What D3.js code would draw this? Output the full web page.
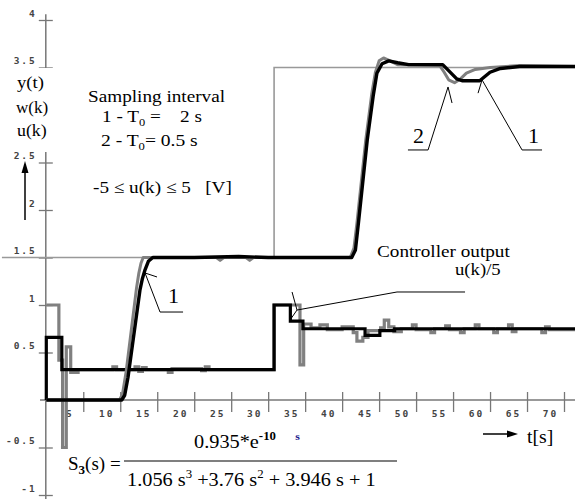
<!DOCTYPE html>
<html lang="en">
<head>
<meta charset="UTF-8" />
<title>Step response, two sampling intervals</title>
<style>
  body { margin: 0; background: #fff; }
  svg { display: block; }
  .tick text {
    font-family: "DejaVu Sans Mono", monospace;
    font-weight: bold;
    font-size: 9.5px;
    fill: #444;
    letter-spacing: 2px;
  }
  .tick line { stroke: #777; stroke-width: 1.3; }
  .lbl { font-family: "Liberation Serif", "DejaVu Serif", serif; fill: #000; }
</style>
</head>
<body>
<div id="chart"></div>
<script src="https://d3js.org/d3.v7.min.js"></script>
<script>
// axis ticks
const xTicks = [5, 10, 15, 20, 25, 30, 35, 40, 45, 50, 55, 60, 65, 70];
const yTicks = [-1, -0.5, 0.5, 1, 1.5, 2, 2.5, 3, 3.5, 4];

// reference w(k)
const wT = [-6, 30.8, 71.5];
const wV = [1.5, 3.5, 3.5];

// output y(t), T0 = 2 s (black)
const ySlowT = [0, 10.2, 10.6, 11.05, 12.67, 13.0, 13.35, 13.8, 14.4, 20, 26, 30, 36, 41.3, 41.8, 42.2, 43.4, 44.2, 44.7, 45.4, 46.3, 47.5, 49, 53.6, 55.5, 56.3, 58.6, 60, 61.4, 64, 71.5];
const ySlowV = [0, 0, 0.05, 0.24, 1.16, 1.28, 1.37, 1.46, 1.5, 1.5, 1.51, 1.5, 1.5, 1.5, 1.58, 1.86, 2.74, 3.2, 3.44, 3.54, 3.57, 3.55, 3.53, 3.53, 3.38, 3.36, 3.36, 3.45, 3.49, 3.51, 3.51];

// output y(t), T0 = 0.5 s (grey)
const yFastT = [0, 9.9, 10.3, 10.8, 12.2, 12.5, 12.8, 13.1, 20, 23, 23.5, 24, 27, 27.5, 28, 41.1, 41.6, 42.0, 43.2, 44.0, 44.5, 45.0, 45.6, 46.5, 47.5, 53.2, 53.8, 54.4, 55.2, 56.0, 56.8, 58, 60, 64, 71.5];
const yFastV = [0, 0, 0.06, 0.3, 1.18, 1.33, 1.44, 1.5, 1.5, 1.5, 1.47, 1.5, 1.5, 1.47, 1.5, 1.5, 1.6, 1.86, 2.74, 3.22, 3.45, 3.57, 3.6, 3.57, 3.53, 3.52, 3.45, 3.37, 3.34, 3.38, 3.44, 3.48, 3.5, 3.52, 3.51];

// controller output u(k)/5, T0 = 2 s (black, steps)
const uSlowT = [0, 0, 2.1, 30.8, 33.0, 34.7, 43.1, 45.1, 47.1, 71.5];
const uSlowV = [0, 0.66, 0.32, 1.0, 0.83, 0.75, 0.68, 0.73, 0.75, 0.75];

// controller output u(k)/5, T0 = 0.5 s (grey, steps)
const uFastT = [0, 1.7, 2.2, 2.7, 3.3, 4.3, 9, 9.5, 12, 12.5, 13, 13.5, 16.5, 17, 21, 21.5, 22, 30.8, 34.3, 34.8, 35.8, 37, 38, 40, 41.5, 42, 42.8, 43.5, 45.2, 45.7, 46.3, 47, 48, 49.5, 50, 52, 52.5, 54, 54.5, 56, 56.5, 58, 58.5, 60.5, 61, 62.5, 63, 63.5, 67, 67.5, 68, 71.5];
const uFastV = [1.0, 0.42, -0.5, 0.56, 0.29, 0.32, 0.35, 0.32, 0.35, 0.3, 0.34, 0.32, 0.29, 0.33, 0.31, 0.35, 0.32, 1.0, 0.37, 0.8, 0.76, 0.79, 0.74, 0.77, 0.71, 0.62, 0.66, 0.73, 0.76, 0.84, 0.77, 0.72, 0.75, 0.79, 0.74, 0.71, 0.75, 0.78, 0.74, 0.71, 0.75, 0.79, 0.75, 0.71, 0.75, 0.79, 0.72, 0.75, 0.71, 0.77, 0.74, 0.73];

// leader lines for the annotations, in [t, value]
const leaders = [
  [[14.97, 1.295], [13.35, 1.337], [15.38, 0.926], [18.49, 0.926]],
  [[54.86, 3.126], [54.32, 3.295], [51.62, 2.632], [48.9, 2.632]],
  [[58.38, 3.23], [58.92, 3.37], [64.33, 2.632], [67.03, 2.632]],
  [[33.23, 1.137], [33.9, 0.947], [32.96, 0.842]],
  [[33.9, 0.947], [47.42, 1.137], [56.62, 1.137]]
];

const W = 575, H = 499;
const svg = d3.select("#chart").append("svg").attr("width", W).attr("height", H);

const x = d3.scaleLinear().domain([0, 70]).range([46.3, 564]);
const y = d3.scaleLinear().domain([-1, 4]).range([495, 20]);

const zip = (ts, vs) => ts.map((t, i) => [t, vs[i]]);

// axis lines
svg.append("line")
  .attr("x1", x(-0.85)).attr("x2", x(71.5))
  .attr("y1", y(0)).attr("y2", y(0))
  .attr("stroke", "#777").attr("stroke-width", 1.5);
svg.append("line")
  .attr("x1", x(0) - 0.5).attr("x2", x(0) - 0.5)
  .attr("y1", y(4.06)).attr("y2", y(-1.05))
  .attr("stroke", "#777").attr("stroke-width", 1.5);

// x ticks, crossing the axis
const gx = svg.append("g").attr("transform", `translate(0,${y(0)})`)
  .call(d3.axisBottom(x).tickValues(xTicks).tickSize(12).tickFormat(d => String(d)));
gx.select(".domain").remove();
gx.selectAll("text").attr("x", -14).attr("y", 17).attr("dy", 0);
const gx2 = svg.append("g").attr("transform", `translate(0,${y(0)})`)
  .call(d3.axisTop(x).tickValues(xTicks).tickSize(8).tickFormat(""));
gx2.select(".domain").remove();

// y ticks, crossing the axis (3 sits under the axis names and has no label)
const gy = svg.append("g").attr("transform", `translate(${x(0) - 0.5},0)`)
  .call(d3.axisLeft(y).tickValues(yTicks).tickSize(7).tickFormat(d => d === 3 ? "" : String(d)));
gy.select(".domain").remove();
gy.selectAll("text").attr("x", -9).attr("dy", -4);
const gy2 = svg.append("g").attr("transform", `translate(${x(0) - 0.5},0)`)
  .call(d3.axisRight(y).tickValues(yTicks).tickSize(7).tickFormat(""));
gy2.select(".domain").remove();

// curves
const line = d3.line().x(d => x(d[0])).y(d => y(d[1]));
const step = d3.line().x(d => x(d[0])).y(d => y(d[1])).curve(d3.curveStepAfter);

svg.append("path").datum(zip(wT, wV)).attr("d", step)
  .attr("fill", "none").attr("stroke", "#999").attr("stroke-width", 1.6);
svg.append("path").datum(zip(uFastT, uFastV)).attr("d", step)
  .attr("fill", "none").attr("stroke", "#808080").attr("stroke-width", 3.2);
svg.append("path").datum(zip(uSlowT, uSlowV)).attr("d", step)
  .attr("fill", "none").attr("stroke", "#000").attr("stroke-width", 3.2);
svg.append("path").datum(zip(yFastT, yFastV)).attr("d", line)
  .attr("fill", "none").attr("stroke", "#808080").attr("stroke-width", 3)
  .attr("stroke-linejoin", "round");
svg.append("path").datum(zip(ySlowT, ySlowV)).attr("d", line)
  .attr("fill", "none").attr("stroke", "#000").attr("stroke-width", 3.4)
  .attr("stroke-linejoin", "round");

// annotation leaders
svg.selectAll(".leader").data(leaders).join("path")
  .attr("class", "leader")
  .attr("d", d3.line().x(d => x(d[0])).y(d => y(d[1])))
  .attr("fill", "none").attr("stroke", "#000").attr("stroke-width", 1);

// white box behind the axis names
svg.append("rect").attr("x", 11).attr("y", 68).attr("width", 44).attr("height", 84).attr("fill", "#fff");

function label(px, py, txt, size, sx) {
  return svg.append("text").attr("class", "lbl")
    .attr("transform", `translate(${px},${py}) scale(${sx || 1},1)`)
    .style("font-size", size + "px")
    .text(txt);
}

label(17, 88, "y(t)", 17, 1.1);
label(16, 113, "w(k)", 17, 1);
label(17, 136, "u(k)", 17, 1.05);

// vertical arrow
svg.append("line").attr("x1", 25).attr("x2", 25).attr("y1", 220).attr("y2", 170)
  .attr("stroke", "#000").attr("stroke-width", 1.5);
svg.append("path").attr("d", "M25,161L21.5,173L28.5,173Z").attr("fill", "#000");

// horizontal arrow
svg.append("line").attr("x1", 483).attr("x2", 510).attr("y1", 434).attr("y2", 434)
  .attr("stroke", "#000").attr("stroke-width", 1.5);
svg.append("path").attr("d", "M518,434L507,430.5L507,437.5Z").attr("fill", "#000");
label(527, 443, "t[s]", 18, 1.1);

const nb = "\u00a0";
label(88, 102, "Sampling interval", 17, 1.13);
const t1 = label(102, 122, "1 - T", 17, 1.13);
t1.append("tspan").attr("dy", 4).style("font-size", "11px").text("0");
t1.append("tspan").attr("dy", -4).text(" =" + nb + nb + nb + " 2 s");
const t2 = label(101, 146, "2 - T", 17, 1.15);
t2.append("tspan").attr("dy", 4).style("font-size", "11px").text("0");
t2.append("tspan").attr("dy", -4).text("= 0.5 s");
label(93, 193, "-5 \u2264 u(k) \u2264 5 " + nb + nb + "[V]", 17, 1.13);

label(377, 257, "Controller output", 17, 1.13);
label(455, 275, "u(k)/5", 17, 1.1);

// curve numbers
svg.append("text").attr("class", "lbl").attr("x", x(16.46)).attr("y", y(1.02))
  .style("font-size", "22px").text("1");
svg.append("text").attr("class", "lbl").attr("x", x(49.58)).attr("y", y(2.705))
  .style("font-size", "22px").text("2");
svg.append("text").attr("class", "lbl").attr("x", x(65.14)).attr("y", y(2.705))
  .style("font-size", "22px").text("1");

// transfer function
const s3 = label(68, 470, "S", 19, 1);
s3.append("tspan").attr("dy", 4).style("font-size", "13px").style("font-weight", "bold").text("3");
s3.append("tspan").attr("dy", -4).text("(s) =");

svg.append("line").attr("x1", 124).attr("x2", 397).attr("y1", 461).attr("y2", 461)
  .attr("stroke", "#000").attr("stroke-width", 1.2);

const num = label(194, 448, "0.935*e", 19, 1.07);
num.append("tspan").attr("dy", -8).style("font-size", "12px").style("font-weight", "bold").text("-10");
num.append("tspan").attr("dx", 18).style("font-size", "11px").style("font-weight", "bold")
  .style("fill", "#1a1a8c").text("s");

const den = label(127, 486, "1.056 s", 19, 1.07);
den.append("tspan").attr("dy", -8).style("font-size", "12px").text("3");
den.append("tspan").attr("dy", 8).text(" +3.76 s");
den.append("tspan").attr("dy", -8).style("font-size", "12px").text("2");
den.append("tspan").attr("dy", 8).text(" + 3.946 s + 1");
</script>
</body>
</html>
